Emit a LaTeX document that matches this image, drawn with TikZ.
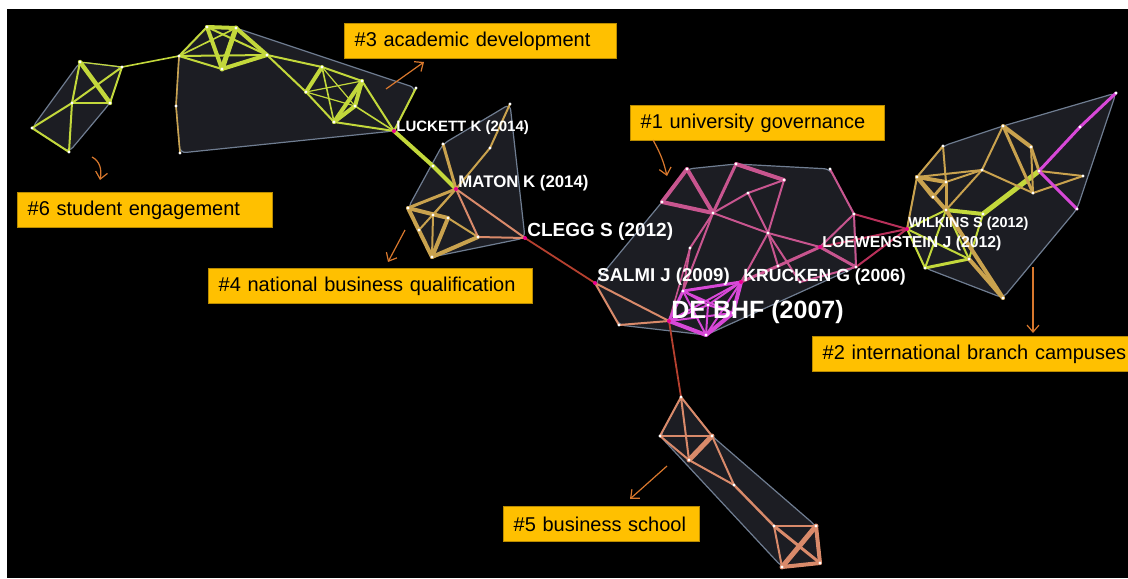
\documentclass[tikz,border=0pt]{standalone}
\usepackage{fontspec}
\setmainfont{Liberation Sans}
\usepackage{tikz}
\usetikzlibrary{arrows.meta}

\definecolor{hullfill}{HTML}{1C1D23}
\definecolor{hullline}{HTML}{6F7D91}
\definecolor{cgreen}{HTML}{C3D83B}
\definecolor{ctan}{HTML}{C9A24E}
\definecolor{cpink}{HTML}{C8558F}
\definecolor{cmag}{HTML}{D848D8}
\definecolor{csalmon}{HTML}{D98A6A}
\definecolor{linkred}{HTML}{B5402F}
\definecolor{linkcrim}{HTML}{B8305A}
\definecolor{labelbg}{HTML}{FFC000}
\definecolor{labelline}{HTML}{B98B00}
\definecolor{arrowor}{HTML}{D9782D}

\begin{document}
\begin{tikzpicture}[x=0.5pt, y=-0.5pt,
    hull/.style={fill=hullfill, draw=hullline, line width=0.6pt, rounded corners=3pt},
    edge/.style={line cap=round},
    clab/.style={anchor=west, inner sep=0pt, text=white, font=\bfseries\fontsize{#1}{#1}\selectfont},
    labelbox/.style={anchor=north west, fill=labelbg, draw=labelline, line width=0.7pt,
        inner xsep=5pt, inner ysep=0pt, minimum height=17.5pt, align=left,
        font=\fontsize{10}{12}\selectfont},
    pointer/.style={draw=arrowor, line width=0.6pt, ->, >={Straight Barb[length=3.5pt,width=6pt]}}]

    \fill[white] (0,0) rectangle (1128,578);
    \fill[black] (7,9) rectangle (1128,578);
    \useasboundingbox (0,0) rectangle (1128,578);

    % #6
    \coordinate (a1) at (80,62);
    \coordinate (a2) at (122,67);
    \coordinate (a3) at (72,103);
    \coordinate (a4) at (110,103);
    \coordinate (a5) at (32,128);
    \coordinate (a6) at (69,152);
    % #3
    \coordinate (b1) at (179,56);
    \coordinate (b2) at (207,27);
    \coordinate (b3) at (236,28);
    \coordinate (b4) at (222,69);
    \coordinate (b5) at (267,55);
    \coordinate (b6) at (322,67);
    \coordinate (b7) at (362,81);
    \coordinate (b8) at (306,92);
    \coordinate (b9) at (355,106);
    \coordinate (b10) at (334,122);
    \coordinate (luckett) at (394,131);
    \coordinate (b12) at (416,88);
    \coordinate (b13) at (176,106);
    \coordinate (b14) at (180,153);
    \coordinate (b15) at (433,166);
    % #4
    \coordinate (maton) at (456,189);
    \coordinate (c2) at (510,104);
    \coordinate (c3) at (490,148);
    \coordinate (c4) at (443,144);
    \coordinate (c5) at (408,208);
    \coordinate (c6) at (433,215);
    \coordinate (c7) at (448,218);
    \coordinate (c8) at (419,230);
    \coordinate (c9) at (432,257);
    \coordinate (c10) at (478,237);
    \coordinate (clegg) at (525,238);
    % #1
    \coordinate (salmi) at (595,283);
    \coordinate (d1) at (687,169);
    \coordinate (d2) at (736,164);
    \coordinate (d3) at (830,169);
    \coordinate (d4) at (784,180);
    \coordinate (d5) at (662,202);
    \coordinate (d6) at (713,213);
    \coordinate (d7) at (748,193);
    \coordinate (d8) at (854,214);
    \coordinate (d9) at (768,233);
    \coordinate (loewenstein) at (820,247);
    \coordinate (d11) at (690,248);
    \coordinate (d12) at (778,266);
    \coordinate (d13) at (856,267);
    \coordinate (krucken) at (741,282);
    \coordinate (d15) at (800,282);
    \coordinate (d16) at (619,325);
    \coordinate (e1) at (683,291);
    \coordinate (debhf) at (669,321);
    \coordinate (e3) at (706,335);
    \coordinate (e5) at (708,305);
    \coordinate (e6) at (733,313);
    % #2
    \coordinate (wilkins) at (907,229);
    \coordinate (g2) at (943,146);
    \coordinate (g3) at (1003,126);
    \coordinate (g4) at (1031,147);
    \coordinate (g5) at (917,177);
    \coordinate (g6) at (946,182);
    \coordinate (g7) at (982,170);
    \coordinate (g8) at (1039,171);
    \coordinate (g9) at (1083,176);
    \coordinate (g10) at (1033,193);
    \coordinate (g11) at (1077,209);
    \coordinate (g12) at (946,210);
    \coordinate (g13) at (983,214);
    \coordinate (g14) at (925,268);
    \coordinate (g15) at (969,259);
    \coordinate (g16) at (1003,298);
    \coordinate (g17) at (1080,127);
    \coordinate (g18) at (1116,93);
    \coordinate (g19) at (933,197);
    % #5
    \coordinate (f1) at (681,397);
    \coordinate (f2) at (660,436);
    \coordinate (f3) at (712,436);
    \coordinate (f4) at (689,460);
    \coordinate (f5) at (734,485);
    \coordinate (f6) at (774,526);
    \coordinate (f7) at (816,526);
    \coordinate (f8) at (782,567);
    \coordinate (f9) at (820,563);

    % hulls
    \draw[hull] (a1) -- (a2) -- (a4) -- (a6) -- (a5) -- cycle;
    \draw[hull] (b2) -- (b3) -- (b12) -- (luckett) -- (b14) -- (b13) -- (b1) -- cycle;
    \draw[hull] (c4) -- (c2) -- (clegg) -- (c9) -- (c5) -- cycle;
    \draw[hull] (salmi) -- (d5) -- (d1) -- (d2) -- (d3) -- (d8) -- (d13) -- (e3) -- (d16) -- cycle;
    \draw[hull] (wilkins) -- (g5) -- (g2) -- (g3) -- (g18) -- (g11) -- (g16) -- (g14) -- cycle;
    \draw[hull] (f1) -- (f3) -- (f7) -- (f9) -- (f8) -- (f2) -- cycle;

    % edges
    \foreach \u/\v/\w in {a1/a2/0.6, a1/a4/2.2, a2/a3/1, a2/a4/1, a1/a3/1, a3/a4/1, a3/a5/1,
        a3/a6/1, a5/a6/1, a2/b1/0.8, b1/b2/1, b1/b3/0.8, b1/b4/1, b1/b5/1, b2/b3/2, b2/b4/2,
        b3/b4/2.5, b2/b5/1, b3/b5/2, b4/b5/2, b5/b6/1, b5/b8/1, b6/b7/1, b6/b8/2, b6/b9/0.6,
        b6/b10/0.8, b7/b8/0.6, b7/b9/2, b7/b10/2, b7/luckett/1, b8/b9/0.6, b8/b10/1, b9/b10/2,
        b9/luckett/0.8, b10/luckett/1, luckett/b12/1, luckett/b15/2, b15/maton/2,
        g8/g13/2.5, g13/g12/2, wilkins/g12/1, wilkins/g14/1, g12/g15/1, g14/g15/1.5,
        wilkins/g15/1, g12/g14/1, g13/g15/1}
        \draw[edge, cgreen, line width=\w pt] (\u) -- (\v);
    \foreach \u/\v/\w in {b1/b13/0.8, b13/b14/0.8, maton/c4/1.5, maton/c3/1, c3/c2/1,
        maton/c5/1.5, maton/c6/1, maton/c8/1, c5/c7/2, c5/c8/1, c5/c9/2, c6/c9/1, c7/c9/2,
        c7/c10/1, c8/c9/1, c9/c10/2, g5/g2/1, g2/g6/1, g5/g6/2, g5/g7/1, g6/g7/1, g3/g7/1,
        g3/g4/2, g3/g10/1.5, g4/g8/1.5, g4/g10/1, g7/g10/1, g8/g9/1, g9/g10/1, g7/g12/1,
        g5/g12/2, g6/g12/1.5, g5/g19/2, g19/g12/1, wilkins/g5/1, g6/g19/1.5, g12/g16/2,
        g15/g16/2}
        \draw[edge, ctan, line width=\w pt] (\u) -- (\v);
    \foreach \u/\v/\w in {maton/c10/1, maton/clegg/1, c10/clegg/1, salmi/d16/1, salmi/debhf/1,
        d16/debhf/1, f1/f2/1, f1/f3/1, f1/f4/1, f2/f3/1, f2/f4/1, f3/f4/2.5, f3/f5/1,
        f4/f5/1, f5/f6/1.2, f6/f7/1, f6/f8/1, f7/f9/2, f8/f9/2, f6/f9/1.5, f7/f8/2.5}
        \draw[edge, csalmon, line width=\w pt] (\u) -- (\v);
    \foreach \u/\v in {clegg/salmi, debhf/f1}
        \draw[edge, linkred, line width=0.9pt] (\u) -- (\v);
    \foreach \u/\v/\w in {d1/d5/2, d1/d6/2, d5/d6/2, d2/d6/1.5, d2/d4/2, d4/d7/1, d7/d6/1,
        d6/d9/1, d9/loewenstein/1, d4/d9/1, d7/d9/1, d3/d8/1, d8/loewenstein/1, d8/d13/1,
        loewenstein/d13/1.5, loewenstein/d12/1.5, d9/d12/1, d9/d15/1, d6/d11/1, d11/e1/1,
        d6/e1/1, d12/krucken/1.5, d15/d13/1, d9/krucken/1, d11/debhf/0.8}
        \draw[edge, cpink, line width=\w pt] (\u) -- (\v);
    \foreach \u in {d8, loewenstein, d13}
        \draw[edge, linkcrim, line width=1pt] (\u) -- (wilkins);
    \foreach \u/\v/\w in {e1/debhf/1.5, e1/e3/1, e1/krucken/1.5, e1/e5/1, e1/e6/1,
        debhf/e3/2, debhf/krucken/1, debhf/e5/1, debhf/e6/1, e3/krucken/1, e3/e5/1,
        e3/e6/2, krucken/e5/1, krucken/e6/2, e5/e6/1, g18/g17/1.5, g17/g8/1.5, g8/g11/1.5}
        \draw[edge, cmag, line width=\w pt] (\u) -- (\v);

    % dots
    \foreach \n in {a1,a2,a3,a4,a5,a6,b1,b2,b3,b4,b5,b6,b7,b8,b9,b10,b12,b13,b14,b15,
        c2,c3,c4,c5,c6,c7,c8,c9,c10,d1,d2,d3,d4,d5,d6,d7,d8,d9,d11,d12,d13,d15,d16,
        e1,e3,e5,e6,g2,g3,g4,g5,g6,g7,g8,g9,g10,g11,g12,g13,g14,g15,g16,g17,g18,g19,
        f1,f2,f3,f4,f5,f6,f7,f8,f9}
        \fill[white] (\n) circle (0.8pt);
    \foreach \n in {luckett,maton,clegg,salmi,krucken,debhf,loewenstein,wilkins}
        \fill[magenta] (\n) circle (1pt);

    % cited references
    \node[clab=7.5] (luckettlab) at (396,128) {LUCKETT K (2014)};
    \node[clab=8.4] (matonlab) at (458,183) {MATON K (2014)};
    \node[clab=9.5] (clegglab) at (527,232) {CLEGG S (2012)};
    \node[clab=9.3] (salmilab) at (597,277) {SALMI J (2009)};
    \node[clab=8.8] (kruckenlab) at (743,277) {KRUCKEN G (2006)};
    \node[clab=12.5] (debhflab) at (671,312) {DE BHF (2007)};
    \node[clab=7.9] (loewensteinlab) at (822,243) {LOEWENSTEIN J (2012)};
    \node[clab=7.2] (wilkinslab) at (908,224) {WILKINS S (2012)};

    % cluster labels
    \node[labelbox, text width=126pt] (lab3) at (344,23) {\#3 academic development};
    \node[labelbox, text width=117.5pt] (lab6) at (17,192) {\#6 student engagement};
    \node[labelbox, text width=152pt] (lab4) at (208,268) {\#4 national business qualification};
    \node[labelbox, text width=117pt] (lab1) at (630,105) {\#1 university governance};
    \node[labelbox, text width=152pt] (lab2) at (812,336) {\mbox{\#2 international branch campuses}};
    \node[labelbox, text width=88pt] (lab5) at (503,506) {\#5 business school};

    % pointers
    \coordinate (s3) at (386,89);
    \coordinate (t3) at (424,62);
    \coordinate (s6) at (92,157);
    \coordinate (t6) at (100,180);
    \coordinate (s4) at (405,230);
    \coordinate (t4) at (388,262);
    \coordinate (s1) at (653,140);
    \coordinate (t1) at (667,176);
    \coordinate (s2) at (1033,267);
    \coordinate (t2) at (1033,333);
    \coordinate (s5) at (667,466);
    \coordinate (t5) at (630,499);
    \draw[pointer] (s3) -- (t3);
    \draw[pointer] (s6) .. controls (100,161) and (102,170) .. (t6);
    \draw[pointer] (s4) -- (t4);
    \draw[pointer] (s1) to[bend left=8] (t1);
    \draw[pointer] (s2) -- (t2);
    \draw[pointer] (s5) -- (t5);
\end{tikzpicture}
\end{document}
